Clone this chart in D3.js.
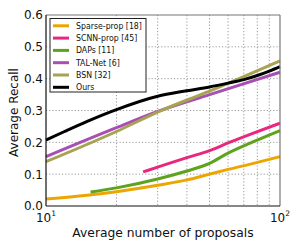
<!DOCTYPE html>
<html lang="en">
<head>
<meta charset="utf-8">
<title>Average Recall vs proposals</title>
<script src="https://d3js.org/d3.v7.min.js"></script>
<style>
  body { margin: 0; background: #fff; }
  svg text { font-family: "DejaVu Sans", sans-serif; fill: #111; }
</style>
</head>
<body>
<script>
// data
var sparseN = [10, 15, 20, 30, 40, 50, 60, 77, 100];
var sparseR = [0.022, 0.034, 0.045, 0.065, 0.082, 0.100, 0.115, 0.134, 0.155];
var scnnN = [26, 30, 40, 50, 60, 77, 100];
var scnnR = [0.107, 0.122, 0.152, 0.174, 0.198, 0.229, 0.260];
var dapsN = [15.5, 20, 30, 40, 50, 60, 77, 100];
var dapsR = [0.044, 0.057, 0.085, 0.110, 0.134, 0.166, 0.202, 0.237];
var talN = [10, 20, 30, 50, 100];
var talR = [0.155, 0.246, 0.297, 0.350, 0.420];
var bsnN = [10, 20, 30, 50, 100];
var bsnR = [0.139, 0.234, 0.295, 0.361, 0.456];
var oursN = [10, 12, 15, 20, 30, 40, 50, 60, 70, 80, 90, 100];
var oursR = [0.207, 0.234, 0.266, 0.303, 0.345, 0.362, 0.374, 0.386, 0.397, 0.410, 0.424, 0.438];

var names = ["Sparse-prop [18]", "SCNN-prop [45]", "DAPs [11]", "TAL-Net [6]", "BSN [32]", "Ours"];
var colors = ["#eca600", "#e8287f", "#5ea31e", "#a74fb2", "#a7a352", "#000000"];
var xs = [sparseN, scnnN, dapsN, talN, bsnN, oursN];
var ys = [sparseR, scnnR, dapsR, talR, bsnR, oursR];

var yTicks = [0, 0.1, 0.2, 0.3, 0.4, 0.5, 0.6];
var xMinor = [20, 30, 40, 50, 60, 70, 80, 90];

var w = 300, h = 250;
var pLeft = 46, pRight = 280, pTop = 15, pBottom = 206;

var x = d3.scaleLog().domain([10, 100]).range([pLeft, pRight]);
var y = d3.scaleLinear().domain([0, 0.6]).range([pBottom, pTop]);

var svg = d3.select("body").append("svg")
  .attr("width", w)
  .attr("height", h);

// gridlines
svg.append("g").selectAll("line")
  .data(yTicks.slice(1, -1))
  .enter().append("line")
  .attr("x1", pLeft).attr("x2", pRight)
  .attr("y1", d => y(d)).attr("y2", d => y(d))
  .attr("stroke", "#999").attr("stroke-dasharray", "1.2,2");

svg.append("g").selectAll("line")
  .data(xMinor)
  .enter().append("line")
  .attr("x1", d => x(d)).attr("x2", d => x(d))
  .attr("y1", pTop).attr("y2", pBottom)
  .attr("stroke", "#999").attr("stroke-dasharray", "1.2,2");

// series
var line = d3.line()
  .x(d => x(d[0]))
  .y(d => y(d[1]))
  .curve(d3.curveMonotoneX);

names.forEach(function(name, i) {
  var pts = xs[i].map((n, j) => [n, ys[i][j]]);
  svg.append("path")
    .datum(pts)
    .attr("d", line)
    .attr("fill", "none")
    .attr("stroke", colors[i])
    .attr("stroke-width", 3);
});

// spines
svg.append("line").attr("x1", pLeft).attr("x2", pRight).attr("y1", pTop).attr("y2", pTop)
  .attr("stroke", "#777").attr("stroke-width", 1.2);
svg.append("line").attr("x1", pRight).attr("x2", pRight).attr("y1", pTop).attr("y2", pBottom)
  .attr("stroke", "#777").attr("stroke-width", 1.2);
svg.append("line").attr("x1", pLeft).attr("x2", pLeft).attr("y1", pTop).attr("y2", pBottom)
  .attr("stroke", "#111").attr("stroke-width", 1.2);
svg.append("line").attr("x1", pLeft).attr("x2", pRight).attr("y1", pBottom).attr("y2", pBottom)
  .attr("stroke", "#111").attr("stroke-width", 1.2);

// y axis labels
var yAxis = d3.axisLeft(y)
  .tickValues(yTicks)
  .tickFormat(d3.format(".1f"))
  .tickSize(0)
  .tickPadding(3);
var gy = svg.append("g")
  .attr("transform", "translate(" + pLeft + ",0)")
  .call(yAxis);
gy.select(".domain").remove();
gy.selectAll("text").attr("font-size", 12).style("font-family", "DejaVu Sans");

// x axis labels 10^1, 10^2
var xLabs = svg.append("g").selectAll("text")
  .data([10, 100])
  .enter().append("text")
  .attr("x", d => x(d))
  .attr("y", 222)
  .attr("text-anchor", "middle")
  .attr("font-size", 12);
xLabs.append("tspan").text("10");
xLabs.append("tspan")
  .attr("font-size", 7.5)
  .attr("dy", -6.5)
  .text(d => Math.round(Math.log10(d)));

// axis titles
svg.append("text")
  .attr("x", (pLeft + pRight) / 2)
  .attr("y", 237)
  .attr("text-anchor", "middle")
  .attr("font-size", 12.3)
  .text("Average number of proposals");

svg.append("text")
  .attr("transform", "translate(18," + ((pTop + pBottom) / 2 + 2) + ") rotate(-90)")
  .attr("text-anchor", "middle")
  .attr("font-size", 12)
  .text("Average Recall");

// legend
var legend = svg.append("g");
legend.append("rect")
  .attr("x", 50).attr("y", 18.5)
  .attr("width", 96).attr("height", 73.5)
  .attr("fill", "#fff")
  .attr("stroke", "#222").attr("stroke-width", 1);

var rows = legend.selectAll("g.row")
  .data(names)
  .enter().append("g")
  .attr("class", "row")
  .attr("transform", (d, i) => "translate(0," + (25.8 + i * 12.3) + ")");
rows.append("line")
  .attr("x1", 53).attr("x2", 69)
  .attr("stroke", (d, i) => colors[i])
  .attr("stroke-width", 3);
rows.append("text")
  .attr("x", 76)
  .attr("dy", "0.35em")
  .attr("font-size", 8.7)
  .style("font-family", "'DejaVu Sans Condensed', 'DejaVu Sans', sans-serif")
  .text(d => d);
</script>
</body>
</html>
